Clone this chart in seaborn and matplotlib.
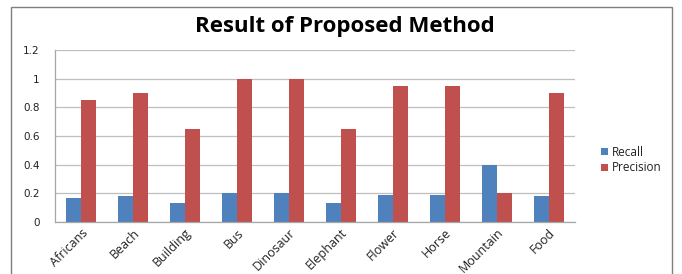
import pandas as pd
import matplotlib
matplotlib.use('Agg')
import matplotlib.pyplot as plt
import seaborn as sns
from matplotlib.patches import Rectangle

# ── Data ──────────────────────────────────────────────────────────────────────
categories = ['Africans', 'Beach', 'Building', 'Bus', 'Dinosaur',
              'Elephant', 'Flower', 'Horse', 'Mountain', 'Food']
recall     = [0.17, 0.18, 0.13, 0.20, 0.20, 0.13, 0.19, 0.19, 0.40, 0.18]
precision  = [0.85, 0.90, 0.65, 1.00, 1.00, 0.65, 0.95, 0.95, 0.20, 0.90]
y_ticks    = [0, 0.2, 0.4, 0.6, 0.8, 1, 1.2]
y_labels   = ['0', '0.2', '0.4', '0.6', '0.8', '1', '1.2']

df = pd.DataFrame({'Category': categories, 'Recall': recall, 'Precision': precision})
df_long = df.melt(id_vars='Category', var_name='Metric', value_name='Value')

sns.set_theme(style='white')
plt.rcParams['font.family'] = ['Open Sans', 'DejaVu Sans']
plt.rcParams['text.color'] = 'black'
plt.rcParams['xtick.color'] = 'black'
plt.rcParams['ytick.color'] = 'black'

fig = plt.figure(figsize=(6.82, 2.74), dpi=100)
ax = fig.add_axes([0.0806, 0.19, 0.762, 0.628])

sns.barplot(data=df_long, x='Category', y='Value', hue='Metric',
            palette=['#4F81BD', '#C0504D'], width=0.58, saturation=1,
            linewidth=0, ax=ax, legend=True)

ax.set_ylim(0, 1.2)
ax.set_yticks(y_ticks)
ax.set_yticklabels(y_labels, fontsize=7.5, family='DejaVu Sans', color='#222222')
ax.set_xlim(-0.5, len(categories) - 0.5)
ax.set_xlabel('')
ax.set_ylabel('')
plt.setp(ax.get_xticklabels(), rotation=45, ha='right', rotation_mode='anchor',
         fontsize=9, color='#222222')
ax.tick_params(axis='x', pad=3, length=0)
ax.tick_params(axis='y', pad=11, length=0)

ax.yaxis.grid(True, color='#BFBFBF', linewidth=0.9)
ax.set_axisbelow(True)
for s in ['top', 'right']:
    ax.spines[s].set_visible(False)
for s in ['left', 'bottom']:
    ax.spines[s].set_color('#A6A6A6')
    ax.spines[s].set_linewidth(0.9)

ax.legend(loc='center left', bbox_to_anchor=(1.03, 0.36), frameon=False,
          fontsize=8.5, handlelength=0.6, handleheight=0.6, handletextpad=0.3,
          labelspacing=0.25, labelcolor='#222222')

fig.text(0.505, 0.905, 'Result of Proposed Method', ha='center', va='center',
         fontsize=16, fontweight='bold', color='black')

# outer frame like the source chart area
fig.patches.append(Rectangle((11 / 682, -0.05), 661 / 682, 1.05 - 7 / 274,
                             transform=fig.transFigure, fill=False,
                             edgecolor='#7F7F7F', linewidth=1.0))

fig.savefig('out.png', dpi=100)
